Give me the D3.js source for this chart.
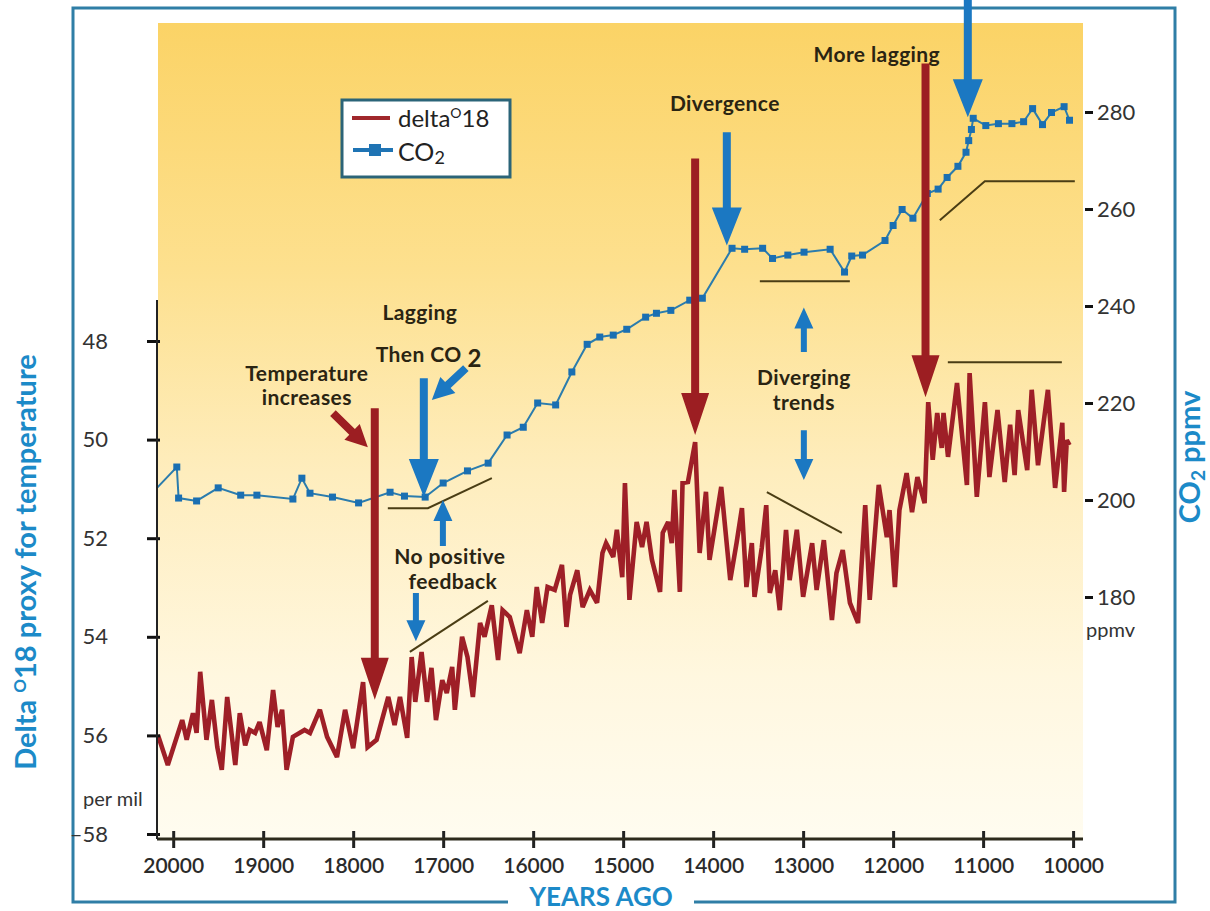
<!DOCTYPE html>
<html><head><meta charset="utf-8">
<script src="https://cdn.jsdelivr.net/npm/d3@7/dist/d3.min.js"></script>
<style>
body{margin:0;background:#fff;}
svg{display:block;}
text{font-family:Lato,"Open Sans",sans-serif;}
</style>
</head><body>
<svg id="chart" width="1210" height="911"></svg>
<script>
// ---------------- DATA ----------------
const xTickValues = [20000,19000,18000,17000,16000,15000,14000,13000,12000,11000,10000];
const leftTickValues = [-48,-50,-52,-54,-56,-58];
const leftTickLabels = ["48","50","52","54","56","–58"];
const rightTickValues = [180,200,220,240,260,280];

const co2Years = [20180,19960,19940,19740,19500,19250,19070,18670,18570,18480,
  18230,17940,17590,17430,17200,17000,16730,16500,16290,16110,
  15950,15750,15570,15400,15260,15110,14960,14750,14630,14470,
  14260,14120,13790,13650,13450,13340,13170,12990,12700,12540,
  12460,12340,12090,12000,11900,11780,11620,11500,11400,11280,
  11190,11160,11130,11110,10970,10830,10680,10550,10450,10340,
  10240,10100,10040];
const co2Values = [202.5,206.8,200.4,199.8,202.5,201.0,201.0,200.2,204.5,201.4,
  200.6,199.4,201.6,200.8,200.6,203.5,206.0,207.6,213.4,215.0,
  220.0,219.6,226.4,232.1,233.6,234.0,235.2,237.7,238.5,239.1,
  241.2,241.6,251.9,251.7,251.9,249.8,250.5,251.1,251.7,247.0,
  250.3,250.5,253.5,256.6,259.9,258.1,263.2,264.1,266.5,268.8,
  271.7,274.1,276.4,278.7,277.2,277.6,277.6,278.0,280.7,277.4,
  279.9,281.1,278.3];

const d18oYears = [20170,20060,19900,19850,19780,19740,19700,19630,19570,19510,
  19460,19400,19310,19260,19200,19150,19090,19040,18960,18890,
  18840,18790,18740,18670,18540,18480,18370,18290,18180,18090,
  18000,17890,17840,17740,17610,17540,17480,17400,17350,17310,
  17240,17180,17130,17080,17010,16960,16900,16870,16790,16730,
  16670,16590,16540,16460,16390,16340,16260,16150,16070,16010,
  15960,15900,15840,15760,15680,15630,15590,15510,15450,15370,
  15290,15230,15190,15110,15070,15010,14980,14930,14850,14790,
  14740,14680,14590,14560,14500,14460,14430,14370,14340,14280,
  14200,14150,14080,14040,13910,13810,13740,13680,13630,13570,
  13540,13460,13410,13370,13310,13260,13190,13150,13070,13000,
  12900,12850,12770,12680,12630,12560,12480,12390,12310,12260,
  12160,12070,12040,11980,11930,11850,11790,11730,11650,11610,
  11560,11510,11460,11440,11390,11290,11180,11150,11070,10980,
  10930,10840,10760,10700,10650,10610,10510,10460,10390,10280,
  10200,10120,10100,10070,10040];
const d18oValues = [-55.99,-56.60,-55.69,-56.09,-55.55,-55.95,-54.71,-56.09,-55.28,-56.24,
  -56.70,-55.22,-56.60,-55.55,-56.20,-55.89,-55.95,-55.73,-56.30,-55.08,
  -55.83,-55.48,-56.70,-56.03,-55.89,-55.95,-55.48,-56.03,-56.44,-55.48,
  -56.26,-54.92,-56.24,-56.09,-55.22,-55.79,-55.22,-56.05,-54.41,-55.32,
  -54.31,-55.32,-54.63,-55.69,-54.88,-55.14,-54.61,-55.48,-54.00,-54.41,
  -55.22,-53.72,-54.00,-53.36,-54.47,-53.46,-53.60,-54.33,-53.46,-54.00,
  -52.99,-53.72,-52.99,-53.05,-52.54,-53.80,-53.15,-52.65,-53.40,-53.05,
  -53.31,-52.30,-52.10,-52.38,-51.83,-52.79,-50.88,-53.25,-51.67,-52.18,
  -51.67,-52.44,-53.09,-51.89,-51.67,-52.10,-51.02,-53.09,-50.88,-50.86,
  -50.05,-52.30,-51.06,-52.44,-50.96,-52.85,-52.10,-51.39,-52.99,-52.10,
  -53.19,-52.20,-51.33,-53.11,-52.65,-53.46,-51.83,-52.85,-51.83,-53.19,
  -52.10,-53.05,-52.04,-53.66,-52.71,-52.24,-53.31,-53.72,-51.33,-53.25,
  -50.92,-51.98,-51.43,-52.99,-51.43,-50.68,-51.47,-50.76,-51.29,-49.24,
  -50.41,-49.46,-50.17,-49.46,-50.35,-48.85,-50.92,-48.65,-51.16,-49.24,
  -50.76,-49.40,-50.86,-49.70,-50.72,-49.40,-50.62,-48.99,-50.52,-48.99,
  -50.98,-49.66,-51.06,-50.01,-50.11];

// annotation geometry in data units: [year, CO2 ppmv]
const redArrows = [
  {from:[17760,218.9], to:[17760,158.8], kind:"big"},
  {from:[14200,270.4], to:[14200,213.4], kind:"big"},
  {from:[11640,290.0], to:[11640,221.2], kind:"big"},
  {from:[18225,217.9], to:[17837,210.9], kind:"mid"}
];
const blueArrows = [
  {from:[17215,225.1], to:[17215,200.6], kind:"bigB"},
  {from:[16748,227.2], to:[17126,220.6], kind:"mid"},
  {from:[17003,190.5], to:[17003,200.0], kind:"small"},
  {from:[17303,180.8], to:[17303,170.9], kind:"small"},
  {from:[13848,275.8], to:[13848,252.5], kind:"bigB"},
  {from:[12992,230.5], to:[12992,239.7], kind:"small"},
  {from:[12992,214.4], to:[12992,204.1], kind:"small"},
  {from:[11170,303.4], to:[11170,278.9], kind:"bigB"}
];
const trendLines = [
  [[17615,198.3],[17170,198.3],[16459,204.5]],
  [[17370,168.7],[16503,179.2]],
  [[13481,245.1],[12481,245.1]],
  [[13403,201.6],[12570,193.2]],
  [[11481,257.7],[10981,265.7],[9981,265.7]],
  [[11392,228.4],[10125,228.4]]
];
const noteTexts = [
  {t:"Temperature", at:[18515,224.5]},
  {t:"increases", at:[18515,219.55]},
  {t:"Lagging", at:[17259,237.06]},
  {t:"No positive", at:[16926,186.8]},
  {t:"feedback", at:[16892,181.64]},
  {t:"Divergence", at:[13870,280.3]},
  {t:"Diverging", at:[12992,223.67]},
  {t:"trends", at:[12992,218.52]},
  {t:"More lagging", at:[12181,290.4]}
];
const thenCO2At = [17159,228.4];

// ---------------- LAYOUT / STYLE ----------------
const W = 1210, H = 911;
const plot = {left:157, right:1083, top:23, bottom:839};
const arrowStyle = {
  big:{sw:8, hw:28, hl:42},
  bigB:{sw:8, hw:30, hl:38},
  mid:{sw:8, hw:22, hl:22},
  small:{sw:6, hw:19, hl:21}
};
const RED = "#9c1e22", BLUE = "#1b78c2", DARK = "#2a2412", TITLE_BLUE = "#1c8ac8";

const svg = d3.select("#chart");

const x = d3.scaleLinear().domain([20180, 9890]).range([plot.left, plot.right]);
const yL = d3.scaleLinear().domain([-48, -58]).range([341, 834]);
const yR = d3.scaleLinear().domain([180, 280]).range([597, 112]);

// gradient
const defs = svg.append("defs");
const grad = defs.append("linearGradient").attr("id","bg").attr("x1",0).attr("y1",0).attr("x2",0).attr("y2",1);
[[0,"#fbd366"],[0.3,"#fde08e"],[0.55,"#feedbd"],[0.8,"#fff7df"],[1,"#fffcf0"]].forEach(s=>
  grad.append("stop").attr("offset",s[0]).attr("stop-color",s[1]));

svg.append("rect").attr("width",W).attr("height",H).attr("fill","#fff");
// frame
svg.append("rect").attr("x",73).attr("y",8).attr("width",1102).attr("height",894)
  .attr("fill","none").attr("stroke","#2f7ea6").attr("stroke-width",3);
// plot background
svg.append("rect").attr("x",plot.left+1).attr("y",plot.top)
  .attr("width",plot.right-plot.left-1).attr("height",plot.bottom-plot.top)
  .attr("fill","url(#bg)");

// trend lines
const lineGen = d3.line().x(d=>x(d[0])).y(d=>yR(d[1]));
svg.append("g").selectAll("path").data(trendLines).join("path")
  .attr("d",lineGen).attr("fill","none").attr("stroke","#4a3d14").attr("stroke-width",2);

// CO2 series
const co2 = co2Years.map((yr,i)=>({yr, v:co2Values[i]}));
svg.append("path").datum(co2)
  .attr("d", d3.line().x(d=>x(d.yr)).y(d=>yR(d.v)))
  .attr("fill","none").attr("stroke","#2b7cad").attr("stroke-width",2);
svg.append("g").selectAll("rect").data(co2.slice(1)).join("rect")
  .attr("x",d=>x(d.yr)-3.5).attr("y",d=>yR(d.v)-3.5).attr("width",7).attr("height",7)
  .attr("fill","#1a6fb2");

// delta O18 series
const d18 = d18oYears.map((yr,i)=>({yr, v:d18oValues[i]}));
svg.append("path").datum(d18)
  .attr("d", d3.line().x(d=>x(d.yr)).y(d=>yL(d.v)))
  .attr("fill","none").attr("stroke","#9e1f27").attr("stroke-width",4.6)
  .attr("stroke-linejoin","miter").attr("stroke-miterlimit",3);

// arrows
function arrowPath(a){
  const st = arrowStyle[a.kind];
  const x1=x(a.from[0]), y1=yR(a.from[1]), x2=x(a.to[0]), y2=yR(a.to[1]);
  const dx=x2-x1, dy=y2-y1, L=Math.hypot(dx,dy), ux=dx/L, uy=dy/L, px=-uy, py=ux;
  const bx=x2-ux*st.hl, by=y2-uy*st.hl;
  const pts=[[x1+px*st.sw/2,y1+py*st.sw/2],[bx+px*st.sw/2,by+py*st.sw/2],[bx+px*st.hw/2,by+py*st.hw/2],
    [x2,y2],[bx-px*st.hw/2,by-py*st.hw/2],[bx-px*st.sw/2,by-py*st.sw/2],[x1-px*st.sw/2,y1-py*st.sw/2]];
  return "M"+pts.map(p=>p.join(",")).join("L")+"Z";
}
svg.append("g").selectAll("path").data(redArrows).join("path").attr("d",arrowPath).attr("fill",RED);
svg.append("g").selectAll("path").data(blueArrows).join("path").attr("d",arrowPath).attr("fill",BLUE);

// annotation texts
svg.append("g").selectAll("text").data(noteTexts).join("text")
  .attr("x",d=>x(d.at[0])).attr("y",d=>yR(d.at[1]))
  .attr("text-anchor","middle").attr("font-size",21).attr("font-weight",700)
  .attr("letter-spacing",0.4).attr("fill",DARK)
  .text(d=>d.t);
const tc = svg.append("text").attr("x",x(thenCO2At[0])).attr("y",yR(thenCO2At[1]))
  .attr("text-anchor","middle").attr("font-size",21).attr("font-weight",700)
  .attr("letter-spacing",0.4).attr("fill",DARK);
tc.append("tspan").text("Then CO");
tc.append("tspan").attr("dx",6).attr("dy",5).attr("font-size",24).text("2");

// bottom axis
const xAxis = d3.axisBottom(x).tickValues(xTickValues).tickSize(9).tickPadding(10).tickFormat(d3.format("d"));
const gx = svg.append("g").attr("transform",`translate(0,${plot.bottom})`).call(xAxis);
gx.select(".domain").remove();
gx.selectAll(".tick line").attr("y1",-8).attr("stroke","#222").attr("stroke-width",3);
gx.selectAll(".tick text").attr("font-size",21).attr("font-weight",600).attr("fill","#2a2a2a")
  .attr("font-family","Lato,sans-serif");
gx.append("line").attr("x1",plot.left).attr("x2",plot.right).attr("y1",0).attr("y2",0)
  .attr("stroke","#2d2a1c").attr("stroke-width",3);

// left axis
const yAxisL = d3.axisLeft(yL).tickValues(leftTickValues).tickSize(10).tickPadding(39)
  .tickFormat((d,i)=>leftTickLabels[i]);
const gl = svg.append("g").attr("transform",`translate(${plot.left},0)`).call(yAxisL);
gl.select(".domain").remove();
gl.selectAll(".tick line").attr("x1",3).attr("stroke","#111").attr("stroke-width",3);
gl.selectAll(".tick text").attr("font-size",22).attr("fill","#333").attr("font-family","Lato,sans-serif");
gl.append("line").attr("x1",0).attr("x2",0).attr("y1",300).attr("y2",plot.bottom)
  .attr("stroke","#222").attr("stroke-width",2);
svg.append("text").attr("x",83).attr("y",806).attr("font-size",20).attr("fill","#333").text("per mil");

// right axis
const yAxisR = d3.axisRight(yR).tickValues(rightTickValues).tickSize(8).tickPadding(4);
const gr = svg.append("g").attr("transform",`translate(1085,0)`).call(yAxisR);
gr.select(".domain").remove();
gr.selectAll(".tick line").attr("stroke","#111").attr("stroke-width",3);
gr.selectAll(".tick text").attr("font-size",22).attr("fill","#333").attr("font-family","Lato,sans-serif");
svg.append("text").attr("x",1086).attr("y",637).attr("font-size",20).attr("fill","#333").text("ppmv");

// axis titles
const lt = svg.append("text").attr("transform","translate(36,562) rotate(-90)")
  .attr("text-anchor","middle").attr("font-size",29).attr("font-weight",700).attr("fill",TITLE_BLUE);
lt.append("tspan").text("Delta ");
lt.append("tspan").attr("font-size",17).attr("dy",-10).text("O");
lt.append("tspan").attr("dy",10).text("18 proxy for temperature");

const rt = svg.append("text").attr("transform","translate(1200,457) rotate(-90)")
  .attr("text-anchor","middle").attr("font-size",29).attr("font-weight",700).attr("fill",TITLE_BLUE);
rt.append("tspan").text("CO");
rt.append("tspan").attr("font-size",19).attr("dy",5).text("2");
rt.append("tspan").attr("dy",-5).text(" ppmv");

// YEARS AGO
svg.append("rect").attr("x",508).attr("y",892).attr("width",186).attr("height",19).attr("fill","#fff");
svg.append("text").attr("x",601).attr("y",906).attr("text-anchor","middle")
  .attr("font-size",26).attr("font-weight",700).attr("fill",TITLE_BLUE).text("YEARS AGO");

// legend
const lg = svg.append("g");
lg.append("rect").attr("x",342).attr("y",100).attr("width",168).attr("height",77)
  .attr("fill","#fff").attr("stroke","#2b6478").attr("stroke-width",3);
lg.append("line").attr("x1",352).attr("x2",390).attr("y1",118).attr("y2",118)
  .attr("stroke","#a0282c").attr("stroke-width",4);
lg.append("line").attr("x1",353).attr("x2",393).attr("y1",150).attr("y2",150)
  .attr("stroke","#1f74b4").attr("stroke-width",4);
lg.append("rect").attr("x",369).attr("y",144).attr("width",12).attr("height",12).attr("fill","#1f74b4");
const l1 = lg.append("text").attr("x",398).attr("y",127).attr("font-size",24).attr("fill","#222");
l1.append("tspan").text("delta");
l1.append("tspan").attr("font-size",14).attr("dy",-9).text("O");
l1.append("tspan").attr("dy",9).text("18");
const l2 = lg.append("text").attr("x",398).attr("y",161).attr("font-size",25).attr("fill","#222");
l2.append("tspan").text("CO");
l2.append("tspan").attr("font-size",18).attr("dy",3).text("2");
</script>
</body></html>
